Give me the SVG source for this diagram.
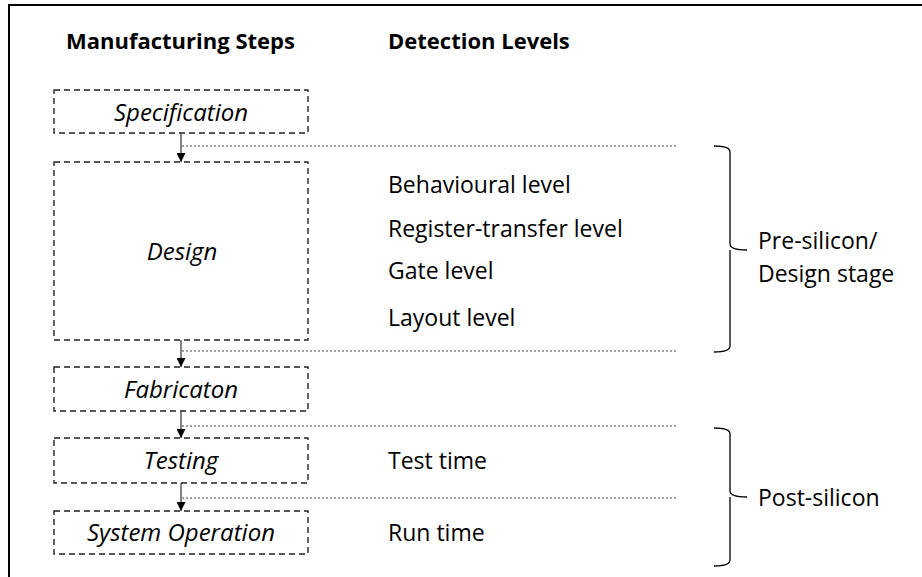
<svg xmlns="http://www.w3.org/2000/svg" width="922" height="577" viewBox="0 0 922 577">
<defs>
<style>
.frame{fill:none;stroke:#000;stroke-width:2}
.box{fill:none;stroke:#222;stroke-width:1.4;stroke-dasharray:6 4}
.dot{fill:none;stroke:#444;stroke-width:1;stroke-dasharray:2 2}
.arr{fill:none;stroke:#333;stroke-width:1.2}
.brace{fill:none;stroke:#000;stroke-width:1.3}
text{font-family:"Open Sans","Liberation Sans",sans-serif;fill:#000}
.hd{font-size:22px;font-weight:bold}
.step{font-size:24px;font-style:italic;text-anchor:middle}
.lvl{font-size:23px}
</style>
<marker id="ah" viewBox="0 0 10 10" refX="10" refY="5" markerWidth="9" markerHeight="9" markerUnits="userSpaceOnUse" orient="auto">
<path d="M0,0 L10,5 L0,10 Z" fill="#000"/>
</marker>
</defs>
<rect width="922" height="577" fill="#fff"/>
<path class="frame" d="M9,577 V5 H922"/>

<g id="headers">
<text class="hd" x="66" y="49">Manufacturing Steps</text>
<text class="hd" x="388" y="49">Detection Levels</text>
</g>

<g id="specification">
<rect class="box" x="54" y="90" width="254" height="43"/>
<text class="step" x="181" y="121">Specification</text>
</g>
<g id="design">
<rect class="box" x="54" y="162" width="254" height="178"/>
<text class="step" x="182" y="260">Design</text>
</g>
<g id="fabrication">
<rect class="box" x="54" y="367" width="254" height="44"/>
<text class="step" x="181" y="398">Fabricaton</text>
</g>
<g id="testing">
<rect class="box" x="54" y="438" width="254" height="45"/>
<text class="step" x="181" y="469">Testing</text>
</g>
<g id="system-operation">
<rect class="box" x="54" y="511" width="254" height="43"/>
<text class="step" x="181" y="541">System Operation</text>
</g>

<g id="levels">
<text class="lvl" x="388" y="193">Behavioural level</text>
<text class="lvl" x="388" y="237">Register-transfer level</text>
<text class="lvl" x="388" y="279">Gate level</text>
<text class="lvl" x="388" y="326">Layout level</text>
<text class="lvl" x="388" y="469">Test time</text>
<text class="lvl" x="388" y="541">Run time</text>
</g>

<g id="pre-silicon">
<path class="brace" d="M714,146 Q730,146 730,152 V244 Q730,250 747,250 M730,250 V346 Q730,352 714,352"/>
<text class="lvl" x="758" y="249">Pre-silicon/</text>
<text class="lvl" x="758" y="282">Design stage</text>
</g>
<g id="post-silicon">
<path class="brace" d="M714,428 Q730,428 730,434 V491 Q730,497 747,497 M730,497 V560 Q730,566 714,566"/>
<text class="lvl" x="758" y="506">Post-silicon</text>
</g>

<g id="connectors">
<line class="arr" x1="181" y1="133" x2="181" y2="162" marker-end="url(#ah)"/>
<line class="arr" x1="181" y1="340" x2="181" y2="367" marker-end="url(#ah)"/>
<line class="arr" x1="181" y1="411" x2="181" y2="438" marker-end="url(#ah)"/>
<line class="arr" x1="181" y1="483" x2="181" y2="511" marker-end="url(#ah)"/>
<line class="dot" x1="182" y1="146" x2="678" y2="146"/>
<line class="dot" x1="182" y1="351" x2="678" y2="351"/>
<line class="dot" x1="182" y1="426" x2="678" y2="426"/>
<line class="dot" x1="182" y1="498" x2="678" y2="498"/>
</g>
</svg>
